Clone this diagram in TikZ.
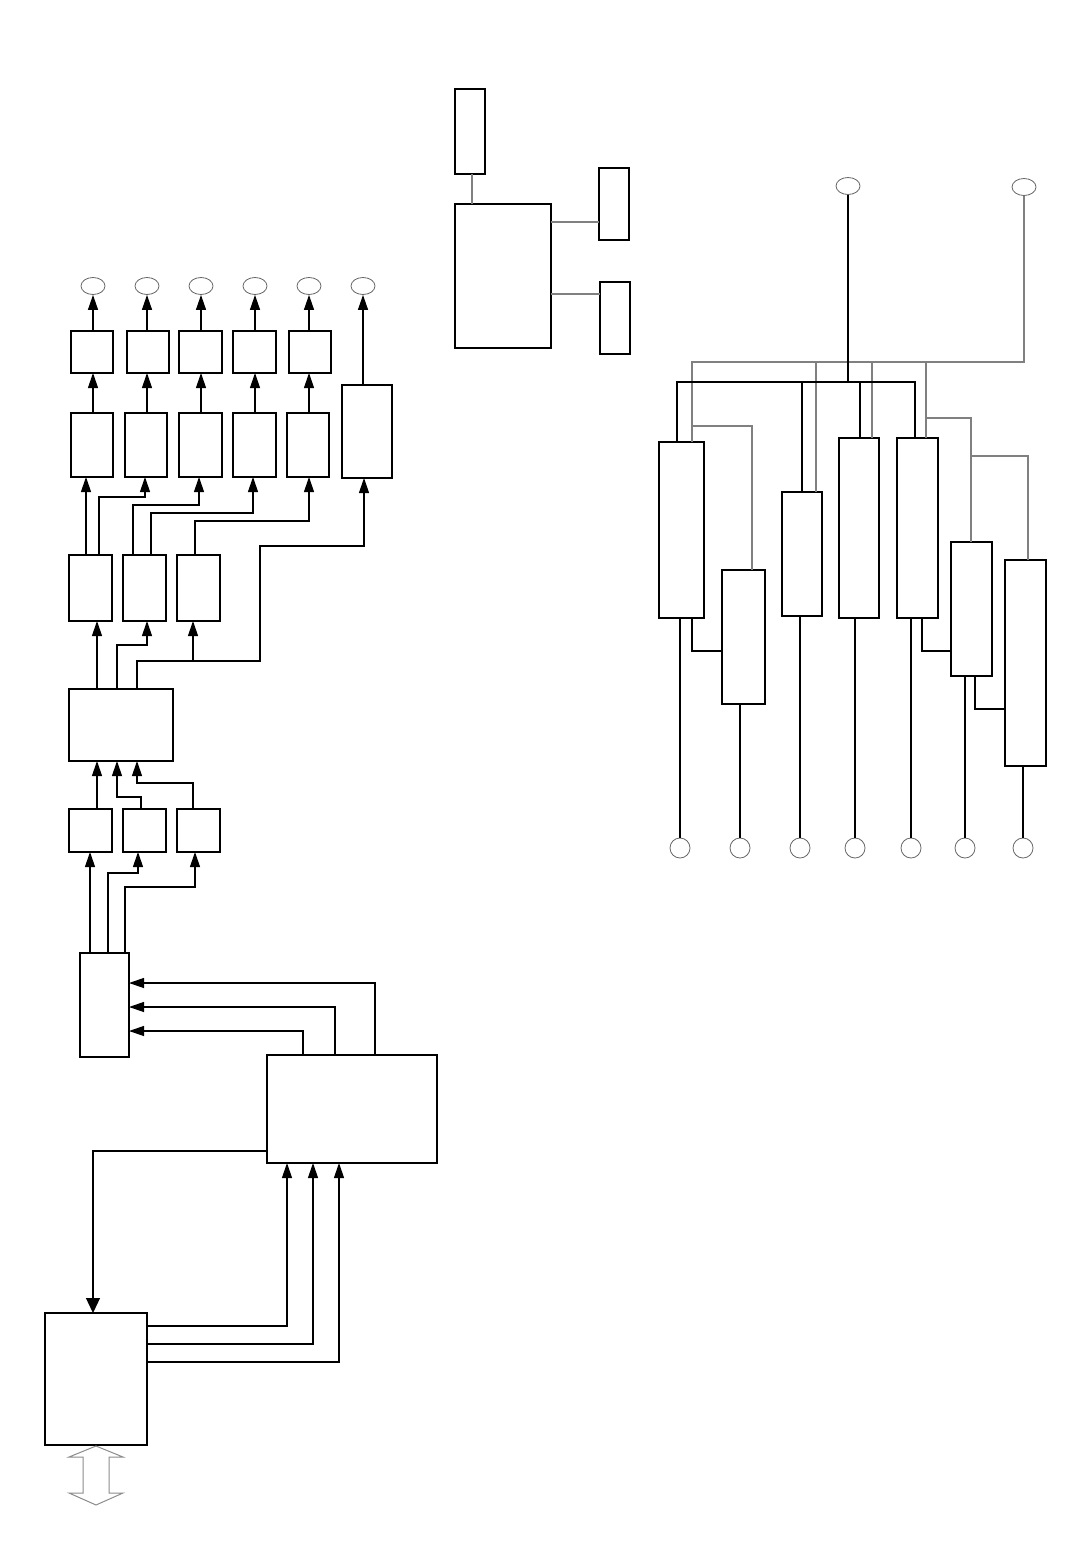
\documentclass[tikz,border=0pt]{standalone}
\usetikzlibrary{arrows.meta,fit,shapes.geometric}
\newcommand{\mybox}[5]{\node[box, fit={(#2,#3) (#4,#5)}] (#1) {};}
\begin{document}
\begin{tikzpicture}[x=0.5pt,y=-0.5pt,
  box/.style={draw=black,line width=0.6pt,inner sep=0pt,outer sep=0pt},
  ell/.style={ellipse,draw=black!60,line width=0.4pt,minimum width=12pt,minimum height=8.5pt,inner sep=0pt},
  circ/.style={circle,draw=black!60,line width=0.4pt,minimum size=10pt,inner sep=0pt},
  wire/.style={draw=black,line width=0.6pt},
  gwire/.style={draw=black!50,line width=0.6pt},
  arr/.style={wire,-{Triangle[length=7.5pt,width=5pt]}},
  bigarr/.style={wire,-{Triangle[length=7.5pt,width=7pt]}}]
\useasboundingbox (0,0) rectangle (1074,1556);

% ---------- left chain ----------
\foreach \i/\x in {1/93,2/147,3/201,4/255,5/309,6/363}{\node[ell] (e\i) at (\x,286) {};}
\mybox{s1}{71}{331}{113}{373}
\mybox{s2}{127}{331}{169}{373}
\mybox{s3}{179}{331}{222}{373}
\mybox{s4}{233}{331}{276}{373}
\mybox{s5}{289}{331}{331}{373}
\mybox{r1}{71}{413}{113}{477}
\mybox{r2}{125}{413}{167}{477}
\mybox{r3}{179}{413}{222}{477}
\mybox{r4}{233}{413}{276}{477}
\mybox{r5}{287}{413}{329}{477}
\mybox{r6}{342}{385}{392}{478}
\foreach \i in {1,...,5}{
  \draw[arr] (s\i.north -| e\i.south) -- (e\i.south);
  \draw[arr] (r\i.north -| e\i.south) -- (s\i.south -| e\i.south);
}
\draw[arr] (r6.north -| e6.south) -- (e6.south);

\mybox{A}{69}{555}{112}{621}
\mybox{B}{123}{555}{166}{621}
\mybox{C}{177}{555}{220}{621}
\draw[arr] (A.north -| 86,0) -- (r1.south -| 86,0);
\draw[arr] (A.north -| 99,0) |- (145,497) -- (r2.south -| 145,0);
\draw[arr] (B.north -| 133,0) |- (199,505) -- (r3.south -| 199,0);
\draw[arr] (B.north -| 151,0) |- (253,513) -- (r4.south -| 253,0);
\draw[arr] (C.north -| 195,0) |- (309,521) -- (r5.south -| 309,0);

\mybox{Bg}{69}{689}{173}{761}
\coordinate (j1) at (193,661);
\draw[arr] (Bg.north -| 97,0) -- (A.south -| 97,0);
\draw[arr] (Bg.north -| 117,0) |- (147,645) -- (B.south -| 147,0);
\draw[arr] (Bg.north -| 137,0) |- (260,661) |- (364,546) -- (r6.south -| 364,0);
\draw[arr] (j1) -- (C.south -| j1);

\mybox{D}{69}{809}{112}{852}
\mybox{E}{123}{809}{166}{852}
\mybox{F}{177}{809}{220}{852}
\draw[arr] (D.north -| 97,0) -- (Bg.south -| 97,0);
\draw[arr] (E.north -| 141,0) |- (117,797) -- (Bg.south -| 117,0);
\draw[arr] (F.north -| 193,0) |- (137,783) -- (Bg.south -| 137,0);

\mybox{G}{80}{953}{129}{1057}
\draw[arr] (G.north -| 90,0) -- (D.south -| 90,0);
\draw[arr] (G.north -| 108,0) |- (138,873) -- (E.south -| 138,0);
\draw[arr] (G.north -| 125,0) |- (195,887) -- (F.south -| 195,0);

\mybox{H}{267}{1055}{437}{1163}
\draw[arr] (H.north -| 303,0) |- (G.east |- 0,1031);
\draw[arr] (H.north -| 335,0) |- (G.east |- 0,1007);
\draw[arr] (H.north -| 375,0) |- (G.east |- 0,983);

\mybox{I}{45}{1313}{147}{1445}
\draw[bigarr] (H.west |- 0,1151) -| (I.north -| 93,0);
\draw[arr] (I.east |- 0,1326) -| (H.south -| 287,0);
\draw[arr] (I.east |- 0,1344) -| (H.south -| 313,0);
\draw[arr] (I.east |- 0,1362) -| (H.south -| 339,0);

% double arrow below I
\draw[draw=black!45,line width=0.5pt] (96,1446) -- (123,1457) -- (109,1457) -- (109,1493) -- (123,1493) -- (96,1505) -- (69,1493) -- (83,1493) -- (83,1457) -- (69,1457) -- cycle;

% ---------- centre group ----------
\mybox{J}{455}{89}{485}{174}
\mybox{K}{455}{204}{551}{348}
\mybox{L}{599}{168}{629}{240}
\mybox{M}{600}{282}{630}{354}
\draw[gwire] (J.south -| 472,0) -- (K.north -| 472,0);
\draw[gwire] (K.east |- 0,222) -- (L.west |- 0,222);
\draw[gwire] (K.east |- 0,294) -- (M.west |- 0,294);

% ---------- right group ----------
\node[ell] (t1) at (848,186) {};
\node[ell] (t2) at (1024,187) {};
\mybox{N}{659}{442}{704}{618}
\mybox{O}{722}{570}{765}{704}
\mybox{P}{782}{492}{822}{616}
\mybox{Q}{839}{438}{879}{618}
\mybox{R}{897}{438}{938}{618}
\mybox{S}{951}{542}{992}{676}
\mybox{T}{1005}{560}{1046}{766}
\foreach \i/\x in {1/680,2/740,3/800,4/855,5/911,6/965,7/1023}{\node[circ] (c\i) at (\x,848) {};}

% gray bus
\draw[gwire] (t2.south) -- (t2.south |- 0,362) -| (N.north -| 692,0);
\draw[gwire] (692,426) -| (O.north -| 752,0);
\draw[gwire] (816,362) -- (P.north -| 816,0);
\draw[gwire] (872,362) -- (Q.north -| 872,0);
\draw[gwire] (926,362) -- (R.north -| 926,0);
\draw[gwire] (926,418) -| (S.north -| 971,0);
\draw[gwire] (971,456) -| (T.north -| 1028,0);

% black bus
\coordinate (bus) at (848,382);
\draw[wire] (t1.south) -- (bus);
\draw[wire] (N.north -| 677,0) |- (bus) -| (R.north -| 915,0);
\draw[wire] (802,382) -- (P.north -| 802,0);
\draw[wire] (860,382) -- (Q.north -| 860,0);

% bottom wires
\draw[wire] (c1.north |- N.south) -- (c1.north);
\draw[wire] (N.south -| 692,0) |- (O.west |- 0,651);
\draw[wire] (c2.north |- O.south) -- (c2.north);
\draw[wire] (c3.north |- P.south) -- (c3.north);
\draw[wire] (c4.north |- Q.south) -- (c4.north);
\draw[wire] (c5.north |- R.south) -- (c5.north);
\draw[wire] (R.south -| 922,0) |- (S.west |- 0,651);
\draw[wire] (c6.north |- S.south) -- (c6.north);
\draw[wire] (S.south -| 975,0) |- (T.west |- 0,709);
\draw[wire] (c7.north |- T.south) -- (c7.north);
\end{tikzpicture}
\end{document}
